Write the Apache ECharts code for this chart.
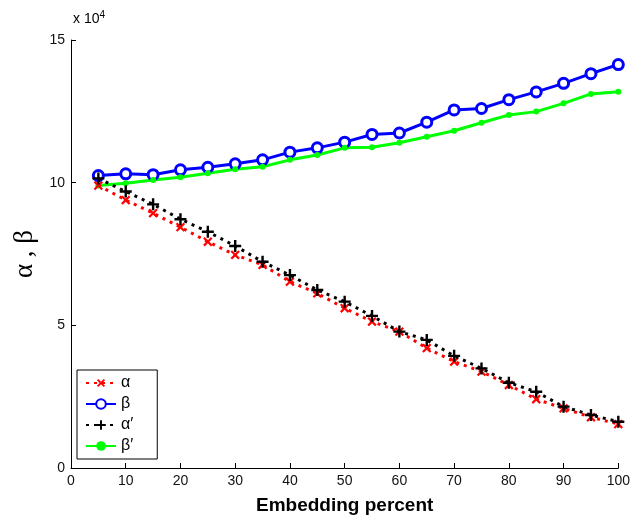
<!DOCTYPE html>
<html>
<head>
<meta charset="utf-8">
<script src="https://cdn.jsdelivr.net/npm/echarts@6/dist/echarts.min.js"></script>
<style>
  html, body { margin: 0; padding: 0; background: #fff; }
  #chart { width: 633px; height: 523px; }
</style>
</head>
<body>
<div id="chart"></div>
<script>
// 横轴：嵌入百分比
var percents = [5, 10, 15, 20, 25, 30, 35, 40, 45, 50, 55, 60, 65, 70, 75, 80, 85, 90, 95, 100];
// 数值单位 x 10^4
var alpha = [9.90, 9.39, 8.93, 8.44, 7.93, 7.47, 7.12, 6.53, 6.12, 5.60, 5.13, 4.78, 4.20, 3.73, 3.38, 2.91, 2.41, 2.09, 1.78, 1.54];
var beta = [10.25, 10.31, 10.28, 10.45, 10.54, 10.66, 10.80, 11.07, 11.22, 11.42, 11.69, 11.74, 12.12, 12.55, 12.60, 12.91, 13.18, 13.48, 13.82, 14.14];
var alpha2 = [10.15, 9.69, 9.24, 8.72, 8.28, 7.78, 7.23, 6.76, 6.24, 5.83, 5.33, 4.78, 4.49, 3.93, 3.49, 2.99, 2.67, 2.15, 1.86, 1.62];
var beta2 = [9.90, 9.98, 10.09, 10.19, 10.33, 10.47, 10.56, 10.80, 10.97, 11.22, 11.24, 11.40, 11.61, 11.82, 12.10, 12.37, 12.49, 12.78, 13.11, 13.19];
var xTicks = [0, 10, 20, 30, 40, 50, 60, 70, 80, 90, 100];
var yTicks = [0, 5, 10, 15];

function pairs(vals) {
    return vals.map(function (v, i) { return [percents[i], v]; });
}

var plusPath = 'path://M4,0H6V4H10V6H6V10H4V6H0V4H4Z';

var chart = echarts.init(document.getElementById('chart'));

var option = {
    animation: false,
    backgroundColor: '#fff',
    grid: { left: 71, right: 13, top: 40, bottom: 55 },
    xAxis: {
        type: 'value',
        min: xTicks[0],
        max: xTicks[xTicks.length - 1],
        interval: 10,
        name: 'Embedding percent',
        nameLocation: 'middle',
        nameGap: 28,
        nameTextStyle: { fontFamily: 'Liberation Sans', fontWeight: 'bold', fontSize: 19, color: '#000' },
        axisLine: { lineStyle: { color: '#000', width: 1 } },
        axisTick: { inside: true, length: 5, lineStyle: { color: '#000' } },
        axisLabel: { fontFamily: 'Liberation Sans', fontSize: 14, color: '#111', margin: 6 },
        splitLine: { show: false }
    },
    yAxis: {
        type: 'value',
        min: yTicks[0],
        max: yTicks[yTicks.length - 1],
        interval: 5,
        name: 'α , β',
        nameLocation: 'middle',
        nameRotate: 90,
        nameGap: 32,
        nameTextStyle: { fontFamily: 'Liberation Serif', fontSize: 27, color: '#000' },
        axisLine: { show: true, lineStyle: { color: '#000', width: 1 } },
        axisTick: { show: true, inside: true, length: 5, lineStyle: { color: '#000' } },
        axisLabel: { fontFamily: 'Liberation Sans', fontSize: 14, color: '#111', margin: 6 },
        splitLine: { show: false }
    },
    legend: {
        orient: 'vertical',
        left: 77,
        top: 370,
        padding: [5, 24, 5, 8],
        itemWidth: 30,
        itemHeight: 12,
        itemGap: 5,
        borderColor: '#000',
        borderWidth: 1,
        backgroundColor: '#fff',
        textStyle: { fontFamily: 'Liberation Sans', fontSize: 16, color: '#000' },
        data: ['α', 'β', 'α′', 'β′']
    },
    graphic: [{
        type: 'text',
        left: 73,
        top: 10,
        style: {
            text: 'x 10{sup|4}',
            fill: '#000',
            font: '14px "Liberation Sans"',
            rich: { sup: { fontSize: 10, verticalAlign: 'top', padding: [0, 0, 8, 0], fontFamily: 'Liberation Sans' } }
        }
    }],
    series: [{
        name: 'α',
        type: 'line',
        data: pairs(alpha),
        symbol: plusPath,
        symbolRotate: 45,
        symbolSize: 11,
        itemStyle: { color: '#ff0000' },
        lineStyle: { color: '#ff0000', width: 3, type: [3, 5] },
        z: 3
    }, {
        name: 'β',
        type: 'line',
        data: pairs(beta),
        symbol: 'circle',
        symbolSize: 10,
        itemStyle: { color: '#fff', borderColor: '#0000ff', borderWidth: 3 },
        lineStyle: { color: '#0000ff', width: 3 },
        z: 2
    }, {
        name: 'α′',
        type: 'line',
        data: pairs(alpha2),
        symbol: plusPath,
        symbolSize: 12,
        itemStyle: { color: '#000' },
        lineStyle: { color: '#000', width: 3, type: [3, 5] },
        z: 4
    }, {
        name: 'β′',
        type: 'line',
        data: pairs(beta2),
        symbol: 'circle',
        symbolSize: 6,
        itemStyle: { color: '#00ff00' },
        lineStyle: { color: '#00ff00', width: 3 },
        z: 2
    }]
};

chart.setOption(option);
</script>
</body>
</html>
